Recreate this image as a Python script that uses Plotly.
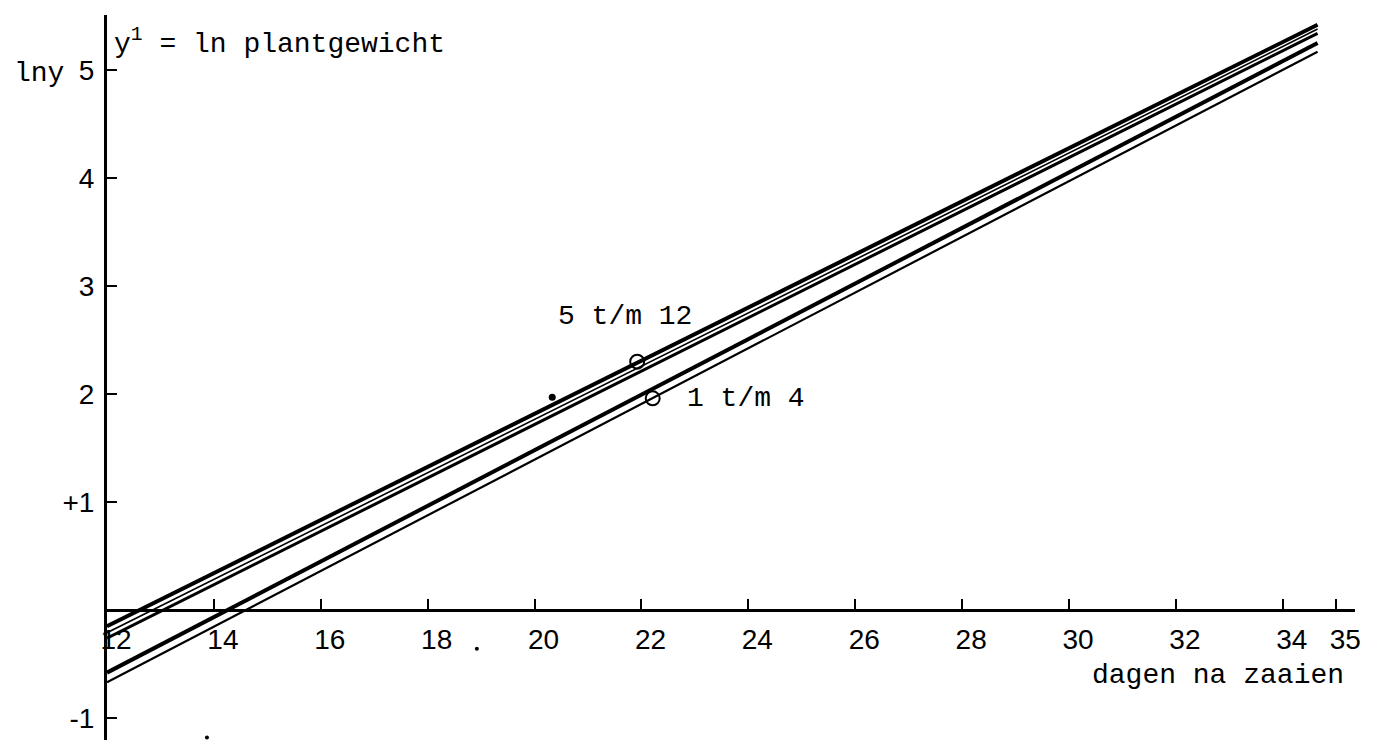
import plotly.graph_objects as go

# ---- data ----
line_names = ["5 t/m 12 (a)", "5 t/m 12 (b)", "5 t/m 12 (c)", "1 t/m 4 (a)", "1 t/m 4 (b)"]
x_start = [12, 12, 12, 12, 12]
x_end = [34.65, 34.65, 34.65, 34.65, 34.65]
y_start = [-0.15, -0.21, -0.26, -0.58, -0.67]
y_end = [5.42, 5.38, 5.34, 5.25, 5.17]
line_widths = [4, 1.6, 3, 4, 2.2]

circle_x = [21.92, 22.21]
circle_y = [2.30, 1.96]

dot_x = [20.33]
dot_y = [1.97]
speck_x = [13.87, 18.92]
speck_y = [-1.18, -0.36]

x_tickvals = [12, 14, 16, 18, 20, 22, 24, 26, 28, 30, 32, 34, 35]
x_ticktext = [str(v) for v in x_tickvals]
y_tickvals = [5, 4, 3, 2, 1, -1]
y_ticktext = ["5", "4", "3", "2", "+1", "-1"]

x_range = [12, 35.35]
y_range = [-1.204, 5.51]

MONO = "Liberation Mono"
SANS = "Liberation Sans"

fig = go.Figure()
for i in range(len(line_names)):
    fig.add_trace(go.Scatter(
        x=[x_start[i], x_end[i]], y=[y_start[i], y_end[i]],
        mode="lines", line=dict(color="black", width=line_widths[i]),
        name=line_names[i], showlegend=False, hoverinfo="skip"))

fig.add_trace(go.Scatter(x=circle_x, y=circle_y, mode="markers",
                         marker=dict(symbol="circle-open", size=14, color="black",
                                     line=dict(width=2, color="black")),
                         showlegend=False, hoverinfo="skip"))
fig.add_trace(go.Scatter(x=dot_x, y=dot_y, mode="markers",
                         marker=dict(symbol="circle", size=7, color="black"),
                         showlegend=False, hoverinfo="skip"))
fig.add_trace(go.Scatter(x=speck_x, y=speck_y, mode="markers",
                         marker=dict(symbol="circle", size=4, color="black"),
                         showlegend=False, hoverinfo="skip"))

x_pos = (0 - y_range[0]) / (y_range[1] - y_range[0])

fig.update_layout(
    width=1374, height=740,
    margin=dict(l=107, r=19, t=15, b=0, pad=0),
    paper_bgcolor="white", plot_bgcolor="white",
    showlegend=False,
    xaxis=dict(range=x_range, anchor="free", position=x_pos,
               showgrid=False, zeroline=False,
               showline=True, linecolor="black", linewidth=3,
               ticks="inside", ticklen=10, tickwidth=2, tickcolor="black",
               tickvals=x_tickvals, ticktext=x_ticktext,
               tickfont=dict(family=SANS, size=28, color="black"),
               ticklabelshift=9, ticklabelstandoff=3),
    yaxis=dict(range=y_range, anchor="x",
               showgrid=False, zeroline=False,
               showline=True, linecolor="black", linewidth=3,
               ticks="inside", ticklen=10, tickwidth=2, tickcolor="black",
               tickvals=y_tickvals, ticktext=y_ticktext,
               tickfont=dict(family=SANS, size=28, color="black"),
               ticklabelstandoff=4),
)

# "lny" sits left of the y axis, outside the data range -> paper x
fig.add_annotation(xref="paper", yref="y", x=-0.076, y=4.97, text="lny",
                   xanchor="left", yanchor="middle", showarrow=False,
                   font=dict(family=MONO, size=28, color="black"))

annos = [
    dict(x=12.1, y=5.26, text="y<sup>1</sup> = ln plantgewicht", xanchor="left", yanchor="middle",
         font=dict(family=MONO, size=28, color="black")),
    dict(x=20.40, y=2.72, text="5 t/m 12", xanchor="left", yanchor="middle",
         font=dict(family=MONO, size=28, color="black")),
    dict(x=22.81, y=1.96, text="1 t/m 4", xanchor="left", yanchor="middle",
         font=dict(family=MONO, size=28, color="black")),
    dict(x=30.39, y=-0.61, text="dagen na zaaien", xanchor="left", yanchor="middle",
         font=dict(family=MONO, size=28, color="black")),
]
for a in annos:
    fig.add_annotation(xref="x", yref="y", showarrow=False, **a)

fig.write_html("out.html")
